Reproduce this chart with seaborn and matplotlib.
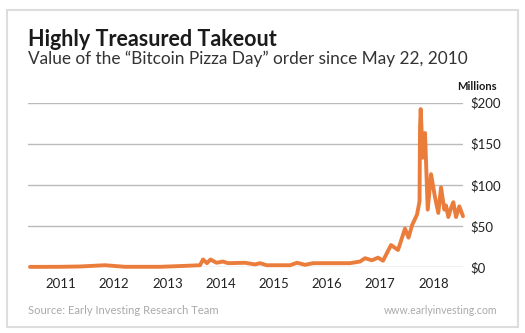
import matplotlib
matplotlib.use("Agg")
import matplotlib.pyplot as plt
import seaborn as sns
import pandas as pd
from matplotlib.patches import Rectangle

# ---- data (decimal year, value in $ millions) ----
years = [2010.417, 2010.981, 2011.357, 2011.827, 2012.203, 2012.861, 2013.237,
         2013.613, 2013.669, 2013.744, 2013.810, 2013.923, 2014.045, 2014.139,
         2014.459, 2014.647, 2014.741, 2014.867, 2015.305, 2015.436, 2015.586,
         2015.737, 2016.432, 2016.620, 2016.714, 2016.846, 2016.959, 2017.053,
         2017.203, 2017.335, 2017.466, 2017.532, 2017.598, 2017.692, 2017.739,
         2017.748, 2017.761, 2017.799, 2017.842, 2017.893, 2017.955, 2018.030,
         2018.092, 2018.143, 2018.205, 2018.237, 2018.280, 2018.331, 2018.374,
         2018.425, 2018.487, 2018.556]
values = [0.5, 0.6, 1.0, 2.5, 0.6, 0.6, 1.5,
          2.5, 9.5, 5.0, 9.5, 5.5, 7.0, 5.0,
          5.5, 3.5, 5.0, 2.5, 2.5, 5.5, 3.0,
          5.0, 5.0, 7.0, 11.0, 8.5, 11.7, 8.0,
          27.0, 21.0, 47.0, 36.0, 51.0, 64.0, 80.0,
          170.0, 192.0, 133.0, 163.0, 70.0, 113.0, 85.0,
          66.0, 97.0, 70.0, 75.0, 61.0, 72.0, 79.0,
          61.0, 74.0, 62.0]
x_ticks = [2011, 2012, 2013, 2014, 2015, 2016, 2017, 2018]
x_labels = ["2011", "2012", "2013", "2014", "2015", "2016", "2017", "2018"]
y_ticks = [0, 50, 100, 150, 200]
y_labels = ["$0", "$50", "$100", "$150", "$200"]

title = "Highly Treasured Takeout"
subtitle = "Value of the \u201cBitcoin Pizza Day\u201d order since May 22, 2010"
unit = "Millions"
source = "Source: Early Investing Research Team"
site = "www.earlyinvesting.com"

df = pd.DataFrame({"year": years, "value": values})

sns.set_theme(style="white")
plt.rcParams["font.family"] = ["Lato", "DejaVu Sans"]

W, H = 525, 333
fig = plt.figure(figsize=(W / 100, H / 100), dpi=100)
fig.patch.set_facecolor("white")

ax = fig.add_axes([28 / W, 1 - 267.3 / H, (463 - 28) / W, (267.3 - 102.5) / H])
ax.set_facecolor("none")

orange = "#EB7D3C"
sns.lineplot(data=df, x="year", y="value", ax=ax, color=orange, linewidth=2.8,
             estimator=None, sort=True, clip_on=False, zorder=3)

ax.set_xlim(2010.38, 2018.556)
ax.set_ylim(0, 200)
ax.set_xticks(x_ticks)
ax.set_xticklabels(x_labels)
ax.set_yticks(y_ticks)
ax.set_yticklabels(y_labels)
ax.yaxis.tick_right()
ax.tick_params(axis="y", length=0, pad=5, labelsize=9.5, labelcolor="#222222")
ax.tick_params(axis="x", length=0, pad=8, labelsize=9.5, labelcolor="#222222")
ax.set_xlabel("")
ax.set_ylabel("")
for s in ax.spines.values():
    s.set_visible(False)
ax.grid(False)
for yt in y_ticks:
    ax.axhline(yt, color="#BBBBBB", linewidth=1.0, zorder=1)

# outer border
fig.patches.append(Rectangle((7 / W, 1 - 327 / H), (518 - 7) / W, (327 - 10) / H,
                             transform=fig.transFigure, fill=False,
                             edgecolor="#DDDDDD", linewidth=1.5))

fig.text(28 / W, 1 - 40 / H, title, fontsize=15.5, fontweight="bold",
         color="#1a1a1a", va="center", ha="left")
fig.text(28 / W, 1 - 59 / H, subtitle, fontsize=12.4, color="#333333",
         va="center", ha="left")
fig.text(497 / W, 1 - 87 / H, unit, fontsize=8, fontweight="bold",
         color="#1a1a1a", va="center", ha="right")
fig.text(28 / W, 1 - 311 / H, source, fontsize=8.1, color="#AAAAAA",
         va="center", ha="left")
fig.text(497 / W, 1 - 311 / H, site, fontsize=7.6, color="#AAAAAA",
         va="center", ha="right")

fig.savefig("out.png", dpi=100, facecolor="white")
